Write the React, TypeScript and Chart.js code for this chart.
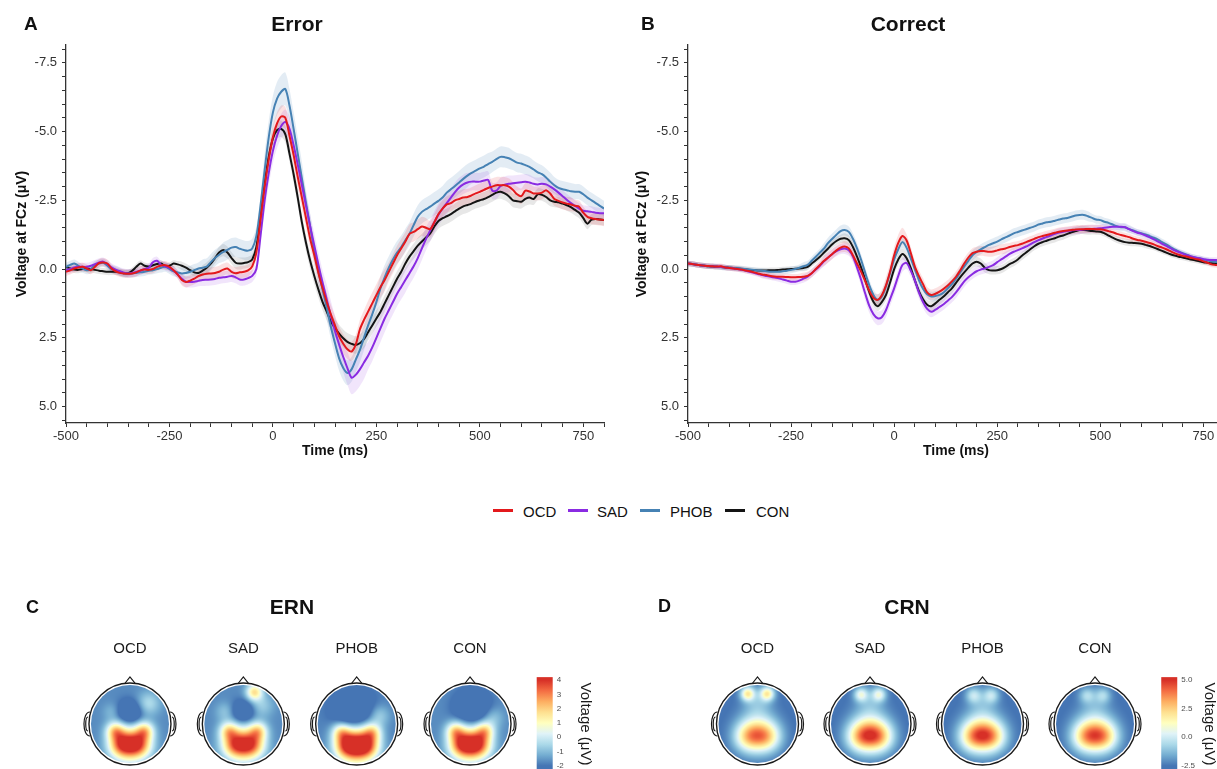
import React, { useEffect, useRef } from "react";
import { Chart, registerables } from "chart.js";

Chart.register(...registerables);

const FONT = '"Liberation Sans", Arial, Helvetica, sans-serif';

// ---------- grand-average waveforms at FCz (µV), sampled every 10 ms from -500 to 800 ms ----------
const timesMs: number[] = Array.from({ length: 131 }, (_, i) => -500 + i * 10);
const timeTickLabels = [-500, -250, 0, 250, 500, 750];
const voltTickLabels = [-7.5, -5, -2.5, 0, 2.5, 5];

const groups = ["OCD", "SAD", "PHOB", "CON"];
const groupColors = ["#e3191c", "#8a2be2", "#4682b4", "#141414"];
const groupBandColors = [
  "rgba(227,25,28,0.13)",
  "rgba(138,43,226,0.12)",
  "rgba(70,130,180,0.15)",
  "rgba(20,20,20,0.10)",
];

const errorOCD = [
  0.1, 0.05, -0.02, -0.06, -0.08, -0.02, 0.04, -0.08, -0.22, -0.24,
  -0.2, -0.02, 0.08, 0.14, 0.16, 0.17, 0.16, 0.12, 0.05, 0.02,
  0.03, 0.0, -0.08, -0.13, -0.14, -0.08, 0.04, 0.2, 0.4, 0.47,
  0.42, 0.35, 0.26, 0.2, 0.17, 0.16, 0.14, 0.1, 0.02, -0.02,
  0.1, 0.15, 0.12, 0.1, 0.05, -0.1, -0.6, -1.8, -3.0, -4.0,
  -4.8, -5.3, -5.55, -5.5, -4.85, -4.15, -3.35, -2.6, -1.85, -1.1,
  -0.5, 0.15, 0.7, 1.2, 1.65, 2.05, 2.45, 2.72, 2.92, 3.0,
  2.75, 2.2, 1.85, 1.55, 1.25, 0.95, 0.65, 0.4, 0.1, -0.2,
  -0.5, -0.75, -1.0, -1.28, -1.35, -1.45, -1.55, -1.5, -1.45, -1.7,
  -2.0, -2.2, -2.35, -2.4, -2.5, -2.55, -2.6, -2.62, -2.68, -2.75,
  -2.81, -2.88, -2.95, -3.0, -3.05, -3.05, -3.05, -3.0, -2.88, -2.72,
  -2.65, -2.85, -2.82, -2.75, -2.75, -2.78, -2.87, -2.75, -2.55, -2.48,
  -2.42, -2.38, -2.35, -2.3, -2.27, -2.05, -1.9, -1.85, -1.82, -1.8,
  -1.78,
];
const errorSAD = [
  0.04, 0.0, -0.06, -0.08, -0.08, -0.08, -0.12, -0.18, -0.24, -0.27,
  -0.18, -0.06, 0.02, 0.08, 0.13, 0.16, 0.14, 0.1, 0.06, 0.0,
  -0.05, -0.25, -0.3, -0.15, -0.1, -0.04, 0.05, 0.2, 0.35, 0.46,
  0.47, 0.46, 0.43, 0.4, 0.39, 0.38, 0.36, 0.32, 0.3, 0.28,
  0.25, 0.3, 0.38, 0.38, 0.33, 0.25, 0.0, -1.2, -2.5, -3.5,
  -4.3, -4.85, -5.2, -5.35, -5.1, -4.5, -3.8, -3.05, -2.3, -1.55,
  -0.85, -0.15, 0.5, 1.1, 1.7, 2.25, 2.75, 3.2, 3.6, 3.95,
  3.85, 3.65, 3.4, 3.15, 2.85, 2.5, 2.15, 1.8, 1.5, 1.2,
  0.9, 0.65, 0.4, 0.15, -0.1, -0.4, -0.75, -1.1, -1.4, -1.7,
  -1.98, -2.2, -2.4, -2.6, -2.8, -2.97, -3.08, -3.15, -3.18, -3.18,
  -3.18, -3.22, -3.24, -2.85, -2.85, -3.02, -3.07, -3.1, -3.12, -3.14,
  -3.16, -3.18, -3.15, -3.1, -3.08, -3.1, -3.08, -3.0, -2.9, -2.78,
  -2.65, -2.52, -2.4, -2.3, -2.2, -2.12, -2.1, -2.08, -2.05, -2.03,
  -2.03,
];
const errorPHOB = [
  -0.08, -0.15, -0.2, -0.12, -0.02, 0.04, 0.0, -0.15, -0.2, -0.23,
  -0.12, 0.0, 0.04, 0.1, 0.16, 0.16, 0.16, 0.14, 0.12, 0.1,
  0.06, 0.04, 0.0, -0.05, -0.08, 0.0, 0.08, 0.12, 0.16, 0.14,
  0.1, 0.04, -0.02, -0.05, -0.09, -0.25, -0.4, -0.52, -0.62, -0.7,
  -0.78, -0.8, -0.74, -0.69, -0.67, -0.75, -1.2, -2.3, -3.6, -4.8,
  -5.7, -6.2, -6.45, -6.55, -5.95, -5.1, -4.2, -3.3, -2.4, -1.55,
  -0.65, 0.1, 0.75, 1.4, 2.1, 2.7, 3.25, 3.6, 3.78, 3.65,
  3.3, 2.95, 2.5, 2.05, 1.65, 1.2, 0.7, 0.3, -0.05, -0.35,
  -0.6, -0.8, -1.05, -1.28, -1.6, -1.9, -2.08, -2.18, -2.27, -2.38,
  -2.48, -2.6, -2.78, -2.9, -3.02, -3.15, -3.28, -3.4, -3.5, -3.58,
  -3.66, -3.73, -3.82, -3.9, -4.0, -4.08, -4.07, -4.03, -3.95, -3.87,
  -3.84, -3.78, -3.72, -3.62, -3.52, -3.45, -3.33, -3.18, -3.05, -2.95,
  -2.9, -2.87, -2.83, -2.81, -2.81, -2.72, -2.6, -2.5, -2.4, -2.3,
  -2.2,
];
const errorCON = [
  -0.08, -0.02, 0.02, 0.03, 0.0, -0.02, 0.0, 0.03, 0.06, 0.08,
  0.1, 0.1, 0.1, 0.12, 0.15, 0.15, 0.06, -0.08, -0.2, -0.12,
  -0.09, -0.14, -0.18, -0.2, -0.1, -0.12, -0.2, -0.17, -0.12, -0.05,
  0.04, 0.12, 0.14, 0.06, -0.05, -0.2, -0.4, -0.6, -0.69, -0.6,
  -0.4, -0.23, -0.2, -0.22, -0.25, -0.35, -0.8, -1.9, -3.1, -4.1,
  -4.75, -5.05, -5.1, -4.9, -4.2, -3.45, -2.6, -1.7, -0.95, -0.3,
  0.25, 0.75, 1.2, 1.55, 1.9, 2.15, 2.35, 2.52, 2.65, 2.72,
  2.76, 2.7, 2.55, 2.3, 2.05, 1.8, 1.55, 1.25, 0.95, 0.65,
  0.35, 0.1, -0.2, -0.45, -0.65, -0.85, -1.0, -1.15, -1.3, -1.55,
  -1.75, -1.85, -1.92, -2.0, -2.1, -2.2, -2.28, -2.33, -2.38, -2.45,
  -2.5, -2.55, -2.62, -2.7, -2.78, -2.81, -2.75, -2.65, -2.5, -2.47,
  -2.45, -2.55, -2.6, -2.55, -2.72, -2.7, -2.62, -2.5, -2.45, -2.43,
  -2.38, -2.32, -2.25, -2.15, -2.05, -1.85, -1.65, -1.8, -1.82, -1.8,
  -1.78,
];

const correctOCD = [
  -0.2, -0.18, -0.16, -0.14, -0.12, -0.11, -0.1, -0.09, -0.1, -0.06,
  -0.04, -0.02, 0.0, 0.02, 0.05, 0.08, 0.12, 0.16, 0.2, 0.22,
  0.25, 0.27, 0.28, 0.28, 0.29, 0.3, 0.3, 0.29, 0.28, 0.25,
  0.15, 0.0, -0.15, -0.3, -0.42, -0.55, -0.68, -0.78, -0.82, -0.75,
  -0.5, -0.2, 0.1, 0.45, 0.8, 1.05, 1.12, 0.95, 0.6, 0.1,
  -0.5, -0.95, -1.2, -1.05, -0.6, -0.1, 0.25, 0.55, 0.85, 0.94,
  0.9, 0.82, 0.72, 0.6, 0.45, 0.28, 0.05, -0.2, -0.42, -0.58,
  -0.63, -0.66, -0.65, -0.63, -0.64, -0.68, -0.72, -0.75, -0.8, -0.84,
  -0.87, -0.92, -0.98, -1.04, -1.1, -1.16, -1.2, -1.24, -1.28, -1.32,
  -1.36, -1.38, -1.4, -1.42, -1.44, -1.45, -1.45, -1.46, -1.46, -1.45,
  -1.45, -1.42, -1.38, -1.34, -1.28, -1.24, -1.2, -1.16, -1.1, -1.06,
  -1.03, -0.99, -0.95, -0.9, -0.83, -0.78, -0.72, -0.65, -0.58, -0.52,
  -0.48, -0.45, -0.41, -0.37, -0.34, -0.28, -0.23, -0.17, -0.15, -0.13,
  -0.12,
];
const correctSAD = [
  -0.2, -0.18, -0.16, -0.14, -0.12, -0.11, -0.1, -0.09, -0.08, -0.06,
  -0.04, -0.02, 0.0, 0.03, 0.06, 0.1, 0.14, 0.18, 0.22, 0.25,
  0.28, 0.31, 0.34, 0.38, 0.42, 0.46, 0.46, 0.42, 0.35, 0.28,
  0.15, 0.02, -0.12, -0.28, -0.42, -0.55, -0.65, -0.72, -0.75, -0.68,
  -0.45, -0.05, 0.4, 0.9, 1.35, 1.65, 1.79, 1.75, 1.5, 1.1,
  0.7, 0.25, -0.15, -0.22, 0.05, 0.4, 0.85, 1.2, 1.45, 1.55,
  1.48, 1.38, 1.28, 1.15, 1.02, 0.85, 0.65, 0.45, 0.3, 0.18,
  0.08, 0.02, -0.02, -0.08, -0.14, -0.25, -0.35, -0.45, -0.55, -0.63,
  -0.69, -0.75, -0.82, -0.9, -0.98, -1.05, -1.11, -1.17, -1.22, -1.28,
  -1.33, -1.36, -1.38, -1.4, -1.42, -1.42, -1.44, -1.45, -1.46, -1.47,
  -1.48, -1.5, -1.52, -1.54, -1.54, -1.54, -1.52, -1.45, -1.38, -1.32,
  -1.28, -1.22, -1.15, -1.08, -1.0, -0.92, -0.84, -0.76, -0.68, -0.62,
  -0.56, -0.5, -0.46, -0.42, -0.39, -0.36, -0.34, -0.33, -0.33, -0.32,
  -0.3,
];
const correctPHOB = [
  -0.2, -0.18, -0.16, -0.14, -0.12, -0.1, -0.1, -0.08, -0.07, -0.06,
  -0.05, -0.04, -0.03, -0.02, 0.0, 0.02, 0.03, 0.05, 0.06, 0.08,
  0.1, 0.1, 0.1, 0.08, 0.06, 0.03, 0.0, -0.05, -0.1, -0.15,
  -0.3, -0.45, -0.6, -0.75, -0.95, -1.1, -1.25, -1.38, -1.42, -1.35,
  -1.1, -0.75, -0.33, 0.15, 0.6, 0.95, 1.12, 1.0, 0.64, 0.15,
  -0.35, -0.72, -0.98, -0.78, -0.4, 0.0, 0.4, 0.72, 0.92, 1.0,
  0.98, 0.94, 0.85, 0.7, 0.55, 0.35, 0.12, -0.1, -0.3, -0.5,
  -0.62, -0.72, -0.8, -0.88, -0.94, -1.0, -1.08, -1.15, -1.22, -1.3,
  -1.35, -1.4, -1.45, -1.5, -1.55, -1.62, -1.66, -1.7, -1.72, -1.76,
  -1.8, -1.84, -1.86, -1.9, -1.95, -1.97, -1.97, -1.92, -1.86, -1.8,
  -1.78, -1.72, -1.68, -1.62, -1.56, -1.52, -1.52, -1.45, -1.4, -1.34,
  -1.3, -1.26, -1.2, -1.14, -1.07, -0.98, -0.9, -0.8, -0.72, -0.64,
  -0.58, -0.52, -0.46, -0.42, -0.39, -0.35, -0.32, -0.28, -0.26, -0.24,
  -0.22,
];
const correctCON = [
  -0.2, -0.18, -0.16, -0.14, -0.12, -0.1, -0.09, -0.08, -0.07, -0.06,
  -0.05, -0.04, -0.02, 0.0, 0.02, 0.03, 0.04, 0.05, 0.05, 0.05,
  0.04, 0.04, 0.03, 0.02, 0.01, 0.0, -0.01, -0.02, -0.04, -0.08,
  -0.2, -0.32, -0.45, -0.6, -0.75, -0.9, -1.02, -1.1, -1.12, -1.05,
  -0.8, -0.45, -0.05, 0.4, 0.85, 1.2, 1.35, 1.2, 0.95, 0.5,
  0.0, -0.35, -0.55, -0.4, -0.05, 0.4, 0.8, 1.1, 1.3, 1.35,
  1.25, 1.12, 1.0, 0.85, 0.7, 0.5, 0.3, 0.12, -0.05, -0.2,
  -0.27, -0.2, -0.05, 0.04, 0.05, 0.04, 0.0, -0.08, -0.18, -0.25,
  -0.35, -0.48, -0.6, -0.72, -0.83, -0.92, -0.98, -1.03, -1.08, -1.12,
  -1.18, -1.22, -1.28, -1.34, -1.38, -1.42, -1.42, -1.4, -1.38, -1.37,
  -1.36, -1.3, -1.22, -1.14, -1.07, -1.02, -0.98, -0.96, -0.95, -0.94,
  -0.92, -0.88, -0.84, -0.78, -0.72, -0.66, -0.6, -0.54, -0.49, -0.45,
  -0.42, -0.38, -0.35, -0.32, -0.28, -0.25, -0.23, -0.21, -0.2, -0.19,
  -0.18,
];

// ---------- confidence half-widths (µV), one value per 50 ms bin from -500 to 800 ms ----------
const bandBinMs = 50;
const errorHalfOCD = [0.15, 0.15, 0.15, 0.15, 0.15, 0.15, 0.2, 0.22, 0.22, 0.22, 0.4, 0.4, 0.35, 0.35, 0.35, 0.4, 0.35, 0.35, 0.3, 0.3, 0.3, 0.3, 0.28, 0.25, 0.25, 0.22, 0.22];
const errorHalfSAD = [0.15, 0.15, 0.15, 0.15, 0.15, 0.15, 0.2, 0.22, 0.22, 0.22, 0.45, 0.45, 0.45, 0.55, 0.6, 0.5, 0.45, 0.42, 0.4, 0.35, 0.32, 0.3, 0.28, 0.25, 0.22, 0.2, 0.2];
const errorHalfPHOB = [0.15, 0.15, 0.15, 0.15, 0.15, 0.18, 0.22, 0.3, 0.35, 0.35, 0.6, 0.6, 0.45, 0.45, 0.45, 0.45, 0.42, 0.42, 0.42, 0.42, 0.4, 0.38, 0.35, 0.33, 0.3, 0.28, 0.28];
const errorHalfCON = [0.12, 0.12, 0.12, 0.12, 0.12, 0.12, 0.15, 0.2, 0.22, 0.2, 0.3, 0.3, 0.3, 0.32, 0.32, 0.3, 0.28, 0.28, 0.28, 0.28, 0.25, 0.25, 0.25, 0.22, 0.2, 0.2, 0.2];
const correctHalfOCD = [0.1, 0.1, 0.1, 0.1, 0.12, 0.12, 0.15, 0.18, 0.2, 0.2, 0.3, 0.22, 0.2, 0.2, 0.18, 0.18, 0.15, 0.15, 0.15, 0.15, 0.15, 0.12, 0.12, 0.12, 0.1, 0.1, 0.1];
const correctHalfSAD = [0.1, 0.1, 0.1, 0.1, 0.12, 0.12, 0.15, 0.18, 0.2, 0.25, 0.25, 0.22, 0.2, 0.2, 0.18, 0.18, 0.15, 0.15, 0.15, 0.15, 0.15, 0.12, 0.12, 0.12, 0.1, 0.1, 0.1];
const correctHalfPHOB = [0.1, 0.1, 0.1, 0.1, 0.1, 0.12, 0.15, 0.2, 0.2, 0.2, 0.22, 0.2, 0.18, 0.18, 0.18, 0.18, 0.18, 0.18, 0.18, 0.18, 0.15, 0.15, 0.12, 0.12, 0.1, 0.1, 0.1];
const correctHalfCON = [0.1, 0.1, 0.1, 0.1, 0.1, 0.1, 0.12, 0.15, 0.18, 0.18, 0.2, 0.18, 0.18, 0.18, 0.18, 0.15, 0.15, 0.15, 0.15, 0.15, 0.12, 0.12, 0.12, 0.1, 0.1, 0.1, 0.1];

// ---------- scalp topographies ----------
// Each map: a background level (µV) plus Gaussian components [x, y, amplitude µV, spread],
// in unit head coordinates (x to the right, y toward the nose).
const ernBase = [-1.7, -1.7, -1.8, -1.7];
const ernOCD = [
  [0, 0.28, -2.0, 0.2],
  [0, -0.5, 5.5, 0.28],
  [-0.28, -0.52, 2.0, 0.2],
  [0.28, -0.52, 2.0, 0.2],
  [-0.36, -0.17, 3.0, 0.16],
  [0.36, -0.17, 3.0, 0.16],
  [0.45, 0.5, 1.3, 0.2],
  [-0.45, 0.3, 0.6, 0.15],
];
const ernSAD = [
  [0, 0.3, -1.9, 0.18],
  [0, -0.5, 5.2, 0.28],
  [-0.28, -0.52, 1.9, 0.2],
  [0.28, -0.52, 1.9, 0.2],
  [-0.36, -0.17, 2.8, 0.16],
  [0.36, -0.17, 2.8, 0.16],
  [0.27, 0.78, 3.3, 0.14],
  [0.45, 0.45, 1.0, 0.2],
  [-0.45, 0.3, 0.8, 0.16],
];
const ernPHOB = [
  [-0.1, 0.35, -2.4, 0.3],
  [0, -0.52, 6.4, 0.3],
  [-0.3, -0.55, 2.2, 0.2],
  [0.3, -0.55, 2.2, 0.2],
  [-0.38, -0.2, 2.6, 0.16],
  [0.38, -0.2, 2.6, 0.16],
  [0.55, 0.2, 1.1, 0.18],
];
const ernCON = [
  [0.05, 0.4, -2.3, 0.27],
  [0, -0.5, 5.7, 0.28],
  [-0.28, -0.52, 2.0, 0.2],
  [0.28, -0.52, 2.0, 0.2],
  [-0.36, -0.17, 2.8, 0.16],
  [0.36, -0.17, 2.8, 0.16],
  [-0.15, 0.6, 0.9, 0.09],
  [0.55, 0.15, 0.9, 0.18],
];

const crnBase = [-2.6, -2.6, -2.6, -2.6];
const crnOCD = [
  [0, -0.22, 4.0, 0.33],
  [-0.24, -0.32, 2.6, 0.24],
  [0.24, -0.32, 2.6, 0.24],
  [-0.24, 0.74, 4.0, 0.12],
  [0.24, 0.74, 4.0, 0.12],
  [0, 0.55, 1.2, 0.25],
];
const crnSAD = [
  [0, -0.22, 4.8, 0.33],
  [-0.24, -0.32, 2.7, 0.24],
  [0.24, -0.32, 2.7, 0.24],
  [-0.22, 0.72, 2.8, 0.12],
  [0.22, 0.72, 2.8, 0.12],
  [0, 0.55, 1.0, 0.25],
];
const crnPHOB = [
  [0, -0.22, 4.7, 0.33],
  [-0.24, -0.32, 2.7, 0.24],
  [0.24, -0.32, 2.7, 0.24],
  [-0.22, 0.7, 2.0, 0.13],
  [0.22, 0.7, 2.0, 0.13],
  [0, 0.55, 0.9, 0.25],
];
const crnCON = [
  [0, -0.22, 4.5, 0.33],
  [-0.24, -0.32, 2.6, 0.24],
  [0.24, -0.32, 2.6, 0.24],
  [-0.2, 0.7, 1.6, 0.13],
  [0.2, 0.7, 1.6, 0.13],
  [0, 0.55, 0.8, 0.25],
];

const ernRange = [-2, 4];
const crnRange = [-2.5, 5];
const ernBarTicks = [4, 3, 2, 1, 0, -1, -2];
const ernBarLabels = ["4", "3", "2", "1", "0", "-1", "-2"];
const crnBarTicks = [5, 2.5, 0, -2.5];
const crnBarLabels = ["5.0", "2.5", "0.0", "-2.5"];

// diverging palette, low (blue) to high (red)
const palette = ["#4575b4", "#74add1", "#abd9e9", "#e0f3f8", "#ffffbf", "#fee090", "#fdae61", "#f46d43", "#d73027"];

function hexToRgb(h: string) {
  return [parseInt(h.slice(1, 3), 16), parseInt(h.slice(3, 5), 16), parseInt(h.slice(5, 7), 16)];
}
const paletteRgb = palette.map(hexToRgb);

function colorFor(v: number, lo: number, hi: number) {
  let t = (v - lo) / (hi - lo);
  t = Math.max(0, Math.min(1, t)) * (paletteRgb.length - 1);
  const k = Math.min(paletteRgb.length - 2, Math.floor(t));
  const f = t - k;
  const a = paletteRgb[k], b = paletteRgb[k + 1];
  return [a[0] + (b[0] - a[0]) * f, a[1] + (b[1] - a[1]) * f, a[2] + (b[2] - a[2]) * f];
}

function scalpValue(x: number, y: number, base: number, comps: number[][]) {
  let v = base;
  for (const [cx, cy, amp, sd] of comps) {
    const dx = x - cx, dy = y - cy;
    v += amp * Math.exp(-(dx * dx + dy * dy) / (2 * sd * sd));
  }
  return v;
}

function renderTopo(base: number, comps: number[][], range: number[], size: number) {
  const c = document.createElement("canvas");
  c.width = size;
  c.height = size;
  const g = c.getContext("2d")!;
  const img = g.createImageData(size, size);
  const h = size / 2;
  for (let py = 0; py < size; py++) {
    for (let px = 0; px < size; px++) {
      const x = (px + 0.5 - h) / h;
      const y = -(py + 0.5 - h) / h;
      if (x * x + y * y > 1.1) continue;
      const [r, gg, b] = colorFor(scalpValue(x, y, base, comps), range[0], range[1]);
      const o = (py * size + px) * 4;
      img.data[o] = r;
      img.data[o + 1] = gg;
      img.data[o + 2] = b;
      img.data[o + 3] = 255;
    }
  }
  g.putImageData(img, 0, 0);
  return c;
}

function ErpChart({ left, width, axisWidth, series, halfWidths }: any) {
  const ref = useRef<HTMLCanvasElement>(null);
  useEffect(() => {
    const datasets: any[] = [];
    groups.forEach((g, gi) => {
      datasets.push({
        label: g,
        data: timesMs.map((t, i) => ({ x: t, y: series[gi][i] })),
        borderColor: groupColors[gi],
        borderWidth: 2,
        pointRadius: 0,
        tension: 0.3,
        fill: false,
        order: gi,
      });
    });
    groups.forEach((g, gi) => {
      const hw = (i: number) => halfWidths[gi][Math.round((timesMs[i] - timesMs[0]) / bandBinMs)];
      datasets.push({
        label: g + " upper",
        data: timesMs.map((t, i) => ({ x: t, y: series[gi][i] - hw(i) })),
        borderWidth: 0,
        borderColor: "rgba(0,0,0,0)",
        pointRadius: 0,
        tension: 0.3,
        fill: false,
        order: 10 + gi,
      });
      datasets.push({
        label: g + " lower",
        data: timesMs.map((t, i) => ({ x: t, y: series[gi][i] + hw(i) })),
        borderWidth: 0,
        borderColor: "rgba(0,0,0,0)",
        backgroundColor: groupBandColors[gi],
        pointRadius: 0,
        tension: 0.3,
        fill: "-1",
        order: 10 + gi,
      });
    });

    const minorTime: number[] = [];
    for (let t = -500; t <= 800; t += 50) minorTime.push(t);
    const minorVolt: number[] = [];
    for (let v = -8; v <= 5.5; v += 0.5) minorVolt.push(v);

    const chart = new Chart(ref.current!, {
      type: "line",
      data: { datasets },
      options: {
        responsive: false,
        animation: false,
        devicePixelRatio: 1,
        layout: { padding: { left: 0, right: 16, top: 45, bottom: 0 } },
        plugins: { legend: { display: false }, tooltip: { enabled: false } },
        scales: {
          x: {
            type: "linear",
            min: -500,
            max: 800,
            afterBuildTicks: (s: any) => {
              s.ticks = minorTime.map((v) => ({ value: v }));
            },
            afterFit: (s: any) => {
              s.height = 47;
            },
            ticks: {
              autoSkip: false,
              maxRotation: 0,
              padding: 2,
              color: "#333",
              font: { family: FONT, size: 13 },
              callback: (v: any) => (timeTickLabels.includes(v) ? String(v) : ""),
            },
            grid: { display: true, drawOnChartArea: false, drawTicks: true, tickLength: 4, color: "#333", lineWidth: 1 },
            border: { display: true, color: "#333", width: 1.3 },
            title: {
              display: true,
              text: "Time (ms)",
              color: "#111",
              font: { family: FONT, size: 14, weight: "bold" },
              padding: { top: 0, bottom: 10 },
            },
          },
          y: {
            type: "linear",
            reverse: true,
            min: -8.15,
            max: 5.6,
            afterBuildTicks: (s: any) => {
              s.ticks = minorVolt.map((v) => ({ value: v }));
            },
            afterFit: (s: any) => {
              s.width = axisWidth;
            },
            ticks: {
              autoSkip: false,
              padding: 5,
              color: "#333",
              font: { family: FONT, size: 13 },
              callback: (v: any) => (voltTickLabels.some((m) => Math.abs(m - v) < 1e-9) ? Number(v).toFixed(1) : ""),
            },
            grid: { display: true, drawOnChartArea: false, drawTicks: true, tickLength: 4, color: "#333", lineWidth: 1 },
            border: { display: true, color: "#333", width: 1.3 },
            title: {
              display: true,
              text: "Voltage at FCz (\u03bcV)",
              color: "#111",
              font: { family: FONT, size: 14, weight: "bold" },
              padding: { top: 14, bottom: 0 },
            },
          },
        },
      } as any,
    });
    return () => chart.destroy();
  }, []);
  return (
    <div style={{ position: "absolute", left, top: 0, width, height: 470 }}>
      <canvas ref={ref} width={width} height={470} style={{ display: "block" }} />
    </div>
  );
}

function TopoPanel({ left, width, padLeft, padRight, bases, maps, range, barTicks, barLabels }: any) {
  const ref = useRef<HTMLCanvasElement>(null);
  useEffect(() => {
    const topoPlugin = {
      id: "topo",
      afterDraw(chart: any) {
        const ctx = chart.ctx;
        const xs = chart.scales.x, ys = chart.scales.y;
        const cy = ys.getPixelForValue(0);
        const r = ys.getPixelForValue(-1) - cy;
        maps.forEach((comps: number[][], i: number) => {
          const cx = xs.getPixelForValue(i);
          ctx.save();
          ctx.lineWidth = 1.2;
          ctx.strokeStyle = "#1a1a1a";
          ctx.fillStyle = "#fff";
          // nose
          ctx.beginPath();
          ctx.moveTo(cx - 6, cy - r + 1.5);
          ctx.lineTo(cx, cy - r - 6);
          ctx.lineTo(cx + 6, cy - r + 1.5);
          ctx.closePath();
          ctx.fill();
          ctx.stroke();
          // ears
          for (const side of [-1, 1]) {
            ctx.beginPath();
            ctx.moveTo(cx + side * (r - 1), cy - 12);
            ctx.bezierCurveTo(cx + side * (r + 7), cy - 12, cx + side * (r + 7), cy + 12, cx + side * (r - 1), cy + 12);
            ctx.fill();
            ctx.stroke();
            ctx.beginPath();
            ctx.moveTo(cx + side * (r + 1), cy - 7);
            ctx.bezierCurveTo(cx + side * (r + 4), cy - 7, cx + side * (r + 4), cy + 7, cx + side * (r + 1), cy + 7);
            ctx.stroke();
          }
          // scalp
          ctx.beginPath();
          ctx.arc(cx, cy, r, 0, Math.PI * 2);
          ctx.fill();
          const size = Math.round(2 * r);
          const img = renderTopo(bases[i], comps, range, size);
          ctx.save();
          ctx.beginPath();
          ctx.arc(cx, cy, r - 2, 0, Math.PI * 2);
          ctx.clip();
          ctx.drawImage(img, cx - r, cy - r, 2 * r, 2 * r);
          ctx.restore();
          ctx.beginPath();
          ctx.arc(cx, cy, r, 0, Math.PI * 2);
          ctx.lineWidth = 1.4;
          ctx.stroke();
          ctx.restore();
        });

        // colour bar
        const barL = chart.chartArea.right + 10;
        const barW = 16;
        const vTop = cy - r * 1.07;
        const vBot = cy + r * 1.02;
        const grad = ctx.createLinearGradient(0, vTop, 0, vBot);
        palette.forEach((c, k) => grad.addColorStop(1 - k / (palette.length - 1), c));
        ctx.save();
        ctx.fillStyle = grad;
        ctx.fillRect(barL, vTop - 3, barW, vBot - vTop + 8);
        ctx.fillStyle = "#4d4d4d";
        ctx.font = `8px ${FONT}`;
        ctx.textAlign = "left";
        ctx.textBaseline = "middle";
        barTicks.forEach((v: number, k: number) => {
          const y = vTop + ((range[1] - v) / (range[1] - range[0])) * (vBot - vTop);
          ctx.fillText(barLabels[k], barL + barW + 4, y);
        });
        ctx.translate(barL + barW + 32, cy);
        ctx.rotate(Math.PI / 2);
        ctx.fillStyle = "#1a1a1a";
        ctx.font = `15px ${FONT}`;
        ctx.textAlign = "center";
        ctx.fillText("Voltage (\u03bcV)", 0, 0);
        ctx.restore();
      },
    };

    const chart = new Chart(ref.current!, {
      type: "line",
      data: { labels: groups, datasets: [] },
      options: {
        responsive: false,
        animation: false,
        devicePixelRatio: 1,
        layout: { padding: { left: padLeft, right: padRight, top: 0, bottom: 4 } },
        plugins: { legend: { display: false }, tooltip: { enabled: false } },
        scales: {
          x: {
            type: "category",
            position: "top",
            offset: true,
            grid: { display: false, drawTicks: false },
            border: { display: false },
            ticks: { color: "#1a1a1a", font: { family: FONT, size: 15 }, padding: 25 },
            afterFit: (s: any) => {
              s.height = 103;
            },
          },
          y: { type: "linear", min: -1, max: 1, display: false },
        },
      } as any,
      plugins: [topoPlugin],
    });
    return () => chart.destroy();
  }, []);
  return (
    <div style={{ position: "absolute", left, top: 580, width, height: 189 }}>
      <canvas ref={ref} width={width} height={189} style={{ display: "block" }} />
    </div>
  );
}

function Label({ text, x, y, size, bold, center }: any) {
  return (
    <div
      style={{
        position: "absolute",
        left: x,
        top: y - size * 0.49,
        transform: center ? "translateX(-50%)" : undefined,
        fontSize: size,
        lineHeight: 1,
        fontWeight: bold ? "bold" : "normal",
        color: "#111",
        whiteSpace: "nowrap",
        fontFamily: FONT,
      }}
    >
      {text}
    </div>
  );
}

const legendLineX = [493, 568, 640, 725];
const legendTextX = [523, 597, 670, 756];

export default function App() {
  return (
    <div
      style={{
        position: "fixed",
        left: 0,
        top: 0,
        width: 1217,
        height: 769,
        overflow: "hidden",
        background: "#fff",
        fontFamily: FONT,
      }}
    >
      <ErpChart left={0} width={620} axisWidth={66} series={[errorOCD, errorSAD, errorPHOB, errorCON]} halfWidths={[errorHalfOCD, errorHalfSAD, errorHalfPHOB, errorHalfCON]} />
      <ErpChart left={620} width={620} axisWidth={68} series={[correctOCD, correctSAD, correctPHOB, correctCON]} halfWidths={[correctHalfOCD, correctHalfSAD, correctHalfPHOB, correctHalfCON]} />
      <TopoPanel left={0} width={620} padLeft={73.3} padRight={93.3} bases={ernBase} maps={[ernOCD, ernSAD, ernPHOB, ernCON]} range={ernRange} barTicks={ernBarTicks} barLabels={ernBarLabels} />
      <TopoPanel left={620} width={597} padLeft={81.25} padRight={65.75} bases={crnBase} maps={[crnOCD, crnSAD, crnPHOB, crnCON]} range={crnRange} barTicks={crnBarTicks} barLabels={crnBarLabels} />

      <Label text="A" x={24} y={23} size={19} bold />
      <Label text="Error" x={297} y={23} size={21} bold center />
      <Label text="B" x={641} y={23} size={19} bold />
      <Label text="Correct" x={908} y={23} size={21} bold center />
      <Label text="C" x={26} y={607} size={18} bold />
      <Label text="ERN" x={292} y={606} size={21} bold center />
      <Label text="D" x={658} y={606} size={18} bold />
      <Label text="CRN" x={907} y={606} size={21} bold center />

      {groups.map((g, i) => (
        <React.Fragment key={g}>
          <div style={{ position: "absolute", left: legendLineX[i], top: 509.3, width: 20, height: 2.5, background: groupColors[i] }} />
          <Label text={g} x={legendTextX[i]} y={511} size={15} />
        </React.Fragment>
      ))}
    </div>
  );
}
